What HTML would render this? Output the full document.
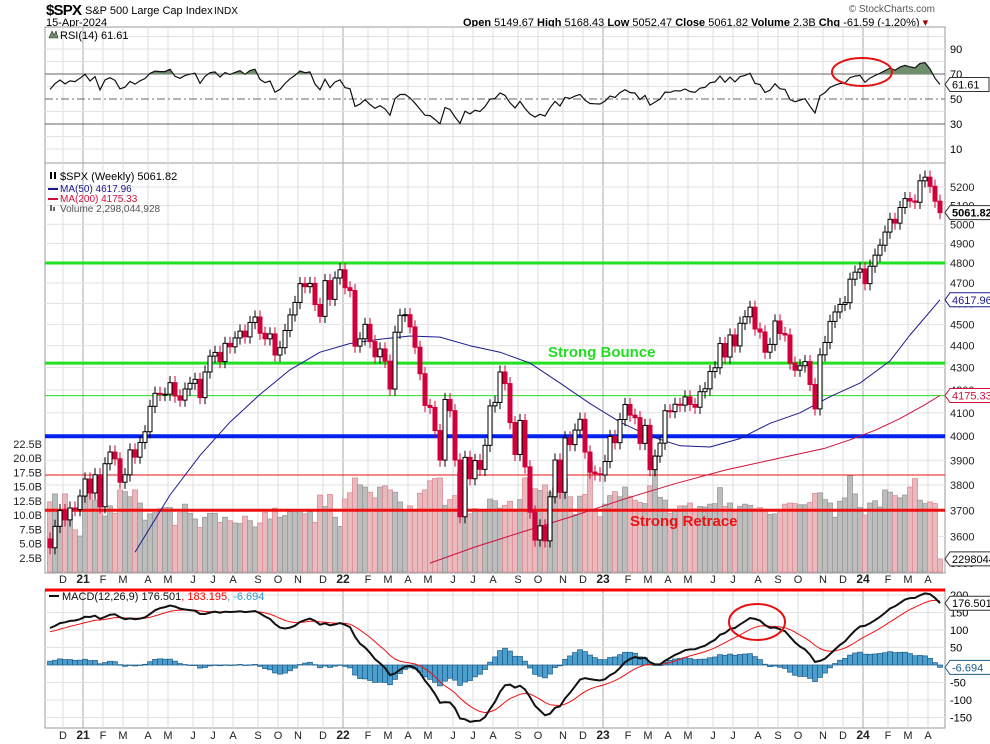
<!DOCTYPE html>
<html><head><meta charset="utf-8"><style>
body{margin:0;background:#fff;font-family:"Liberation Sans",sans-serif}
svg{display:block}
text{font-family:"Liberation Sans",sans-serif}
</style></head><body>
<svg id="c" width="990" height="744" xmlns="http://www.w3.org/2000/svg">
<text x="46" y="15" font-size="15" font-weight="bold" letter-spacing="-0.8">$SPX</text>
<text x="85" y="14" font-size="11">S&amp;P 500 Large Cap Index</text>
<text x="214" y="14" font-size="10">INDX</text>
<text x="46" y="26" font-size="11">15-Apr-2024</text>
<text x="935" y="12" font-size="10" fill="#555" text-anchor="end">© StockCharts.com</text>
<text x="463" y="26" font-size="11"><tspan font-weight="bold">Open</tspan> 5149.67  <tspan font-weight="bold">High</tspan> 5168.43  <tspan font-weight="bold">Low</tspan> 5052.47  <tspan font-weight="bold">Close</tspan> 5061.82  <tspan font-weight="bold">Volume</tspan> 2.3B  <tspan font-weight="bold">Chg</tspan> -61.59 (-1.20%) <tspan fill="#a00">▾</tspan></text>
<g id="g"></g>
</svg>
<script>
// ===== data =====
const startDate = [2020, 10, 16]; // week of Nov 16 2020
const closes = [3557,3638,3699,3663,3709,3703,3756,
3824,3768,3841,3714,3886,3934,3906,3811,3841,3943,3913,3974,4019,4128,4185,4180,4181,4232,4173,4155,4204,4229,4247,4166,4280,4352,4369,4327,4411,4395,4436,4468,4441,4509,4535,4458,4432,4455,4357,4391,4471,4545,4605,4697,4682,4698,4595,4538,4712,4620,4725,4766,
4677,4663,4398,4432,4500,4419,4349,4385,4329,4204,4463,4543,4546,4488,4393,4272,4132,4123,4024,3901,4158,4109,3901,3675,3912,3825,3899,3863,3962,4130,4145,4280,4228,4058,3924,4067,3873,3693,3586,3640,3583,3753,3901,3771,3993,3965,4026,4072,3934,3852,3845,3840,
3895,3999,3973,4071,4136,4090,4079,3970,4046,3862,3917,3971,4109,4105,4137,4133,4169,4136,4124,4192,4205,4282,4299,4410,4348,4450,4399,4505,4536,4582,4478,4464,4370,4406,4516,4457,4450,4320,4288,4308,4327,4224,4117,4358,4415,4514,4559,4595,4604,4719,4754,4770,
4697,4784,4840,4891,4959,5026,5006,5089,5137,5124,5117,5234,5254,5204,5123,5061.82];
const firstOpen = 3590;
const volumesB = [12.3,13.7,9.2,13.7,10.1,7.4,6.3,
13.2,16.2,12.6,16.9,9.8,11.6,10.3,14.4,14.1,13.2,14.4,12.1,9.1,10.2,10.4,11.1,11.3,11.3,8.2,10.4,11.9,10.3,9.3,7.8,9.6,10.3,10.3,8.7,9.6,9.0,8.6,8.5,9.8,9.0,7.9,8.6,10.5,9.3,11.2,9.6,9.9,10.6,11.0,10.8,10.2,10.6,8.7,13.5,11.5,13.6,9.6,8.0,
12.8,13.9,16.5,15.3,14.9,14.0,13.0,14.9,15.1,14.4,14.0,12.3,10.7,11.6,10.9,13.8,14.4,16.0,16.4,16.5,11.7,12.7,13.4,17.6,14.8,10.2,11.1,10.9,11.0,12.8,12.5,11.2,11.7,12.4,10.6,12.7,16.5,12.1,14.6,14.3,15.3,14.0,14.8,15.6,16.4,13.2,10.1,13.3,13.6,19.4,10.7,9.7,
11.9,13.4,14.1,13.2,14.9,13.3,12.6,12.2,12.0,15.1,20.4,13.1,12.6,10.3,10.7,11.6,11.6,12.1,11.1,11.5,11.4,11.9,12.0,14.8,11.5,12.1,10.8,11.5,11.9,11.7,11.1,11.3,10.8,10.1,10.2,11.0,11.9,12.1,12.0,11.8,11.8,12.2,13.8,13.9,12.7,12.1,9.6,12.4,13.0,16.9,13.7,11.3,
10.0,12.1,12.5,11.4,14.4,14.0,13.4,13.0,13.5,14.9,16.4,12.6,12.0,12.3,12.0,2.3];
// MA arrays
const ma50Weeks = [17,24,30,36,42,48,54,60,66,72,78,84,90,96,102,108,114,120,126,132,138,144,150,156,162,168,172,178];
const ma50Vals = [3540,3760,3920,4060,4180,4290,4370,4410,4430,4445,4440,4400,4370,4320,4230,4140,4060,4000,3960,3955,3990,4055,4100,4170,4230,4330,4450,4618];
const ma200Weeks = [76,85,95,105,115,125,135,145,155,160,165,170,175,178];
const ma200Vals = [3500,3560,3620,3680,3745,3805,3860,3905,3950,3985,4025,4075,4135,4175.33];
// horizontal annotation levels
const levels = [4800,4320,4175,4000,3840,3700];
// indicator seeds
const ema12Seed = 3450, ema26Seed = 3345, signalSeed = 92;
const rsiGainSeed = 30, rsiLossSeed = 22;
const priceTicks = [5200,5100,5000,4900,4800,4700,4600,4500,4400,4300,4200,4100,4000,3900,3800,3700,3600,3500];
const volTicks = [2.5,5,7.5,10,12.5,15,17.5,20,22.5];
const rsiTicks = [90,70,50,30,10];
const macdTicks = [200,150,100,50,0,-50,-100,-150];
</script>
<script>
const NS='http://www.w3.org/2000/svg';
const g=document.getElementById('g');
function el(tag,attrs,parent){const e=document.createElementNS(NS,tag);for(const k in attrs)e.setAttribute(k,attrs[k]);(parent||g).appendChild(e);return e;}
const X0=45,X1=945;
const xOf=k=>50+k*5;
const yP=p=>187+950*Math.log(5200/p);
const yV=v=>572-v*5.7;
const yR=v=>99-(v-50)*1.25;
const yM=v=>665-v*0.35;
const panels=[[27,163],[163,573],[590,728]];
panels.forEach((p,i)=>{
 const r=el('rect',{x:X0,y:p[0],width:X1-X0,height:p[1]-p[0],fill:'#fff',stroke:'#999','stroke-width':1});
 
 
});
const n=closes.length;
const d0=new Date(startDate[0],startDate[1],startDate[2]);
const mn='JFMAMJJASOND';
let prevM=-1;
for(let k=0;k<n;k++){
 const d=new Date(d0.getTime()+k*7*86400000);
 const m=d.getMonth();
 if(prevM!==-1&&m!==prevM){
  const x=xOf(k)-2;const yr=m===0;
  panels.forEach(p=>{const l=el('line',{x1:x,x2:x,y1:p[0],y2:p[1],stroke:yr?'#aaa':'#ddd','stroke-width':1});
   
   });
  [583,739].forEach(ty=>{const t=el('text',{x:x,y:ty,'font-size':yr?12:11,'font-weight':yr?'bold':'normal','text-anchor':'middle',fill:'#222'});
   t.textContent=yr?String(d.getFullYear()).slice(2):mn[m];
   
   });
 }
 prevM=m;
}
priceTicks.forEach(p=>{const y=yP(p);
 const l=el('line',{x1:X0,x2:X1,y1:y,y2:y,stroke:'#e2e2e2'});
 
 
 const t=el('text',{x:950,y:y+4,'font-size':11,fill:'#222'});t.textContent=p;
 
 
});
volTicks.forEach(v=>{const t=el('text',{x:42,y:yV(v)+4,'font-size':11,'text-anchor':'end',fill:'#222'});t.textContent=v.toFixed(1)+'B';
 
 });
for(let k=0;k<n;k++){
 const o=k?closes[k-1]:firstOpen;const down=closes[k]<o;
 const r=el('rect',{x:xOf(k)-2.5,y:yV(volumesB[k]),width:5,height:572-yV(volumesB[k]),fill:down?'#e8b9bd':'#bdbdbd',stroke:down?'#dc8d95':'#9a9a9a','stroke-width':0.8});
 
 
}
const lvStyle=[['#22e022',3],['#22e022',3],['#22e022',1],['#0022ee',4],['#ee1111',1],['#ee1111',3]];
levels.forEach((p,i)=>{const y=yP(p);
 const l=el('line',{x1:X0,x2:X1,y1:y,y2:y,stroke:lvStyle[i][0],'stroke-width':lvStyle[i][1]});
 
 });
function poly(ws,vs,fy,col,w,name){const pts=ws.map((k,i)=>xOf(k)+','+fy(vs[i]).toFixed(1)).join(' ');
 const pl=el('polyline',{points:pts,fill:'none',stroke:col,'stroke-width':w,'stroke-linejoin':'round'});
 
 }
poly(ma50Weeks,ma50Vals,yP,'#1a1a90',1,'ma50-line');
poly(ma200Weeks,ma200Vals,yP,'#d0103a',1,'ma200-line');
for(let k=0;k<n;k++){
 const o=k?closes[k-1]:firstOpen,c=closes[k];const down=c<o;
 const x=xOf(k);const hi=Math.max(o,c)*1.007,lo=Math.min(o,c)*0.993;
 const w=el('line',{x1:x,x2:x,y1:yP(hi),y2:yP(lo),stroke:down?'#d0003a':'#000','stroke-width':1});
 
 
 const yt=yP(Math.max(o,c)),yb=yP(Math.min(o,c));
 const b=el('rect',{x:x-2,y:yt,width:4,height:Math.max(1,yb-yt),fill:down?'#d0003a':'#fff',stroke:down?'#d0003a':'#000','stroke-width':1});
 
 
}
let ag=rsiGainSeed,al=rsiLossSeed;const rsi=[100-100/(1+ag/al)];
for(let k=1;k<n;k++){const ch=closes[k]-closes[k-1];ag=(ag*13+Math.max(ch,0))/14;al=(al*13+Math.max(-ch,0))/14;rsi.push(100-100/(1+ag/al));}
for(let v=10;v<=100;v+=10){const l=el('line',{x1:X0,x2:X1,y1:yR(v),y2:yR(v),stroke:(v==70||v==30)?'#666':'#e2e2e2','stroke-dasharray':v==50?'8,3,2,3':'none'});
 if(v==50)l.setAttribute('stroke','#666');
 
 }
rsiTicks.forEach(v=>{const t=el('text',{x:950,y:yR(v)+4,'font-size':11});t.textContent=v;
 
 });
const cp=el('clipPath',{id:'above70'});el('rect',{x:X0,y:27,width:900,height:yR(70)-27},cp);
let fillPts=xOf(0)+','+yR(70)+' '+rsi.map((v,k)=>xOf(k)+','+yR(v).toFixed(1)).join(' ')+' '+xOf(n-1)+','+yR(70);
const fp=el('polygon',{points:fillPts,fill:'#6f8f6f','clip-path':'url(#above70)'});


const rl=el('polyline',{points:rsi.map((v,k)=>xOf(k)+','+yR(v).toFixed(1)).join(' '),fill:'none',stroke:'#111','stroke-width':1.2});


let e12=ema12Seed,e26=ema26Seed,sig=signalSeed;const macd=[],sg=[],hist=[];
for(let k=0;k<n;k++){e12=closes[k]*2/13+e12*11/13;e26=closes[k]*2/27+e26*25/27;const m=e12-e26;sig=m*0.2+sig*0.8;macd.push(m);sg.push(sig);hist.push(m-sig);}
macdTicks.forEach(v=>{const l=el('line',{x1:X0,x2:X1,y1:yM(v),y2:yM(v),stroke:'#e2e2e2'});
 
 
 const t=el('text',{x:950,y:yM(v)+4,'font-size':11});t.textContent=v;
 
 });
for(let k=0;k<n;k++){const y=yM(hist[k]),y0=yM(0);
 const r=el('rect',{x:xOf(k)-2.5,y:Math.min(y,y0),width:5,height:Math.max(0.5,Math.abs(y-y0)),fill:'#4c9fcc',stroke:'#1f5d8a','stroke-width':0.7});
 
 }
const sl=el('polyline',{points:sg.map((v,k)=>xOf(k)+','+yM(v).toFixed(1)).join(' '),fill:'none',stroke:'#f01010','stroke-width':1});


const ml=el('polyline',{points:macd.map((v,k)=>xOf(k)+','+yM(v).toFixed(1)).join(' '),fill:'none',stroke:'#111','stroke-width':2});


const rtop=el('line',{x1:X0,x2:X1,y1:590,y2:590,stroke:'#f00','stroke-width':3});


function txt(x,y,s,attrs,name){const t=el('text',Object.assign({x:x,y:y,'font-size':10},attrs||{}));t.textContent=s;
 
 return t;}
txt(60,39,'RSI(14) 61.61',{'font-size':11},'rsi-legend');
el('path',{d:'M49 38 L52 31 L54 35 L56 31 L58 38 Z',fill:'#6f8f6f',stroke:'#333','stroke-width':0.6});
txt(60,180,'$SPX (Weekly) 5061.82',{'font-size':11},'price-legend');
el('rect',{x:50,y:172,width:2,height:7,fill:'#000'});el('rect',{x:54,y:172,width:2,height:7,fill:'#000'});
el('line',{x1:48,x2:58,y1:189,y2:189,stroke:'#1a1a90','stroke-width':2});
txt(60,192,'MA(50) 4617.96',{fill:'#1a1a90'},'ma50-legend');
el('line',{x1:48,x2:58,y1:199,y2:199,stroke:'#d0103a','stroke-width':2});
txt(60,202,'MA(200) 4175.33',{fill:'#d0103a'},'ma200-legend');
el('rect',{x:50,y:205,width:2,height:6,fill:'#666'});el('rect',{x:53,y:207,width:2,height:4,fill:'#666'});
txt(60,212,'Volume 2,298,044,928',{fill:'#555'},'volume-legend');
const mlg=txt(62,600,'',{'font-size':11},'macd-legend');
mlg.innerHTML='<tspan fill="#111">MACD(12,26,9) 176.501</tspan><tspan fill="#f00">, 183.195</tspan><tspan fill="#3399cc">, -6.694</tspan>';
el('line',{x1:49,x2:59,y1:596,y2:596,stroke:'#111','stroke-width':2});
txt(548,357,'Strong Bounce',{'font-size':15,'font-weight':'bold',fill:'#22dd22'},'strong-bounce-annotation');
txt(630,526,'Strong Retrace',{'font-size':15,'font-weight':'bold',fill:'#ee1111'},'strong-retrace-annotation');
[[862,72,30,14,'rsi-highlight-ellipse'],[757,622,28,18,'macd-highlight-ellipse']].forEach(a=>{
 const e=el('ellipse',{cx:a[0],cy:a[1],rx:a[2],ry:a[3],fill:'none',stroke:'#e81010','stroke-width':2});
 
 });
function box(y,s,col,bold,name){const w=s.length*6.6+6;
 const p=el('path',{d:`M945 ${y} L950 ${y-7} L${950+w} ${y-7} L${950+w} ${y+7} L950 ${y+7} Z`,fill:'#fff',stroke:col,'stroke-width':1});
 
 
 txt(952,y+4,s,{'font-size':11,'font-weight':bold?'bold':'normal',fill:col==='#333'?'#000':col},name+'-text');}
box(yR(rsi[n-1]),'61.61','#333',false,'rsi-value-box');
box(yP(closes[n-1]),'5061.82','#333',true,'price-value-box');
box(yP(ma50Vals[ma50Vals.length-1]),'4617.96','#1a1a90',false,'ma50-value-box');
box(yP(ma200Vals[ma200Vals.length-1]),'4175.33','#d0103a',false,'ma200-value-box');
box(yV(volumesB[n-1]),'2298044','#333',false,'volume-value-box');
box(yM(macd[n-1]),'176.501','#333',false,'macd-value-box');
box(yM(hist[n-1]),'-6.694','#1f5d8a',false,'histogram-value-box');
</script>
</body></html>
